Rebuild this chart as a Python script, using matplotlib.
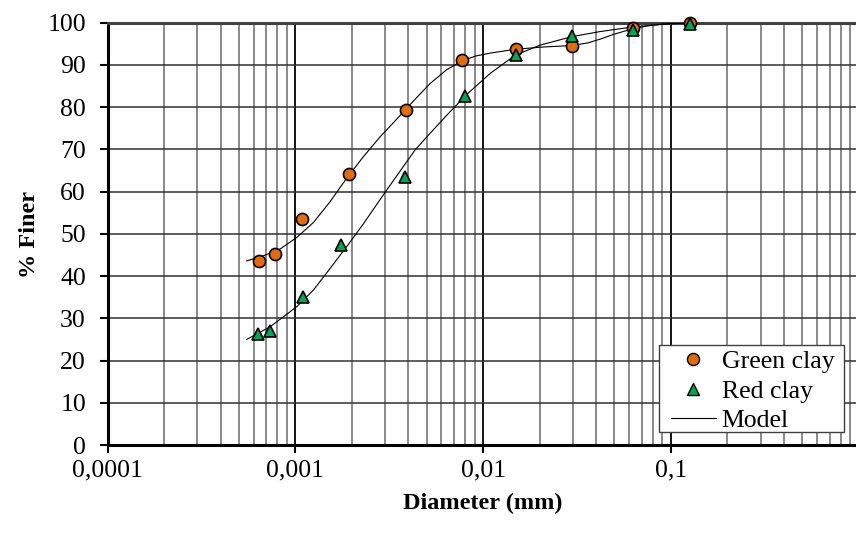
import matplotlib
matplotlib.use("Agg")
import matplotlib.pyplot as plt
from matplotlib.lines import Line2D
from matplotlib.patches import Rectangle

# ---- data ----
green_d = [0.000644, 0.000778, 0.00108, 0.00193, 0.00387, 0.00775, 0.0150, 0.0299, 0.063, 0.126]
green_p = [43.6, 45.2, 53.5, 64.2, 79.3, 91.2, 93.7, 94.6, 98.7, 100.0]
red_d = [0.000632, 0.000735, 0.00110, 0.00176, 0.00383, 0.00805, 0.0150, 0.0299, 0.063, 0.126]
red_p = [26.3, 27.0, 35.1, 47.3, 63.5, 82.6, 92.4, 96.9, 98.2, 99.7]

green_model_d = [0.000551, 0.000676, 0.00083, 0.001021, 0.00125, 0.001531, 0.001879, 0.002307, 0.002831,
                 0.003475, 0.004266, 0.005224, 0.006412, 0.007745, 0.00912, 0.01091, 0.01483, 0.02014,
                 0.02972, 0.03597, 0.04198, 0.050, 0.0631, 0.0759, 0.0912, 0.1079, 0.1259]
green_model_p = [43.6, 44.8, 46.4, 49.2, 52.7, 57.6, 63.2, 68.3, 73.0,
                 77.2, 81.5, 85.6, 88.9, 91.0, 92.1, 92.8, 93.7, 94.2,
                 94.6, 95.2, 96.1, 97.3, 98.6, 99.3, 99.7, 99.9, 100.0]
red_model_d = [0.000551, 0.000735, 0.001021, 0.00125, 0.001531, 0.001879, 0.002307, 0.00266, 0.00307,
               0.00366, 0.00435, 0.00512, 0.00641, 0.00813, 0.01091, 0.01483, 0.02014, 0.02972,
               0.04198, 0.0631, 0.0899, 0.1259]
red_model_p = [25.0, 28.0, 32.8, 36.7, 41.8, 47.0, 52.4, 56.4, 60.4,
               65.2, 69.9, 73.4, 78.1, 82.9, 88.0, 92.3, 94.7, 96.7,
               97.9, 99.0, 99.6, 100.0]

xticks = [0.0001, 0.001, 0.01, 0.1, 1]
xtick_labels = ["0,0001", "0,001", "0,01", "0,1", ""]
yticks = [0, 10, 20, 30, 40, 50, 60, 70, 80, 90, 100]
legend_labels = ['Green clay', 'Red clay', 'Model']

plt.rcParams['font.family'] = ['Liberation Serif', 'DejaVu Serif']

W, H = 856, 534
fig = plt.figure(figsize=(W/100, H/100), dpi=100)
ax = fig.add_axes([107.5/W, 1-445/H, (858.7-107.5)/W, (445-22.7)/H])

orange = '#E36C0A'
green = '#00A651'

ax.set_xscale('log')
ax.set_xlim(0.0001, 1)
ax.set_ylim(0, 100)

# grid
ax.grid(True, which='minor', axis='x', color='#808080', lw=1.3, zorder=0)
ax.grid(True, which='major', axis='x', color='black', lw=1.3, zorder=0)
ax.grid(True, which='major', axis='y', color='#303030', lw=1.1, zorder=0)

ax.plot(green_model_d, green_model_p, color='black', lw=0.8, zorder=3)
ax.plot(red_model_d, red_model_p, color='black', lw=0.8, zorder=3)
ax.plot(green_d, green_p, 'o', ms=8.7, mfc=orange, mec='black', mew=1.2, ls='none', zorder=4, clip_on=False)
ax.plot(red_d, red_p, '^', ms=9, mfc=green, mec='black', mew=1.2, ls='none', zorder=5, clip_on=False)

ax.set_xticks(xticks)
ax.set_xticklabels(xtick_labels)
ax.set_yticks(yticks)
ax.tick_params(axis='both', which='major', labelsize=18.5, direction='out', length=5.5, width=1.5, color='black')
ax.tick_params(axis='x', which='minor', length=0)
ax.tick_params(axis='x', pad=5)
ax.tick_params(axis='y', pad=10)

for s in ['left', 'bottom']:
    ax.spines[s].set_linewidth(2.2)
    ax.spines[s].set_color('black')
ax.spines['top'].set_linewidth(2.2)
ax.spines['top'].set_color('#404040')
ax.spines['right'].set_visible(False)

fig.text(483/W, 1-503/H, 'Diameter (mm)', fontsize=17.5, fontweight='bold', ha='center', va='center')
fig.text(30/W, 1-234/H, '% Finer', fontsize=17.5, fontweight='bold', ha='center', va='center', rotation=90)

# legend frame
fig.patches.append(Rectangle((659/W, 1-432/H), (844-659)/W, (432-344.7)/H, transform=fig.transFigure,
                             facecolor='white', edgecolor='#404040', lw=1.0, zorder=9))
handles = [
    Line2D([], [], marker='o', ls='none', ms=8.7, mfc=orange, mec='black', mew=1.0),
    Line2D([], [], marker='^', ls='none', ms=8.7, mfc=green, mec='black', mew=1.0),
    Line2D([], [], color='black', lw=0.8),
]
leg = fig.legend(handles, legend_labels, loc='upper left', bbox_to_anchor=(671/W, 1-350.5/H),
                 fontsize=18.5, frameon=False, borderpad=0, borderaxespad=0,
                 handlelength=1.75, handletextpad=0.22, labelspacing=0.24)
leg.set_zorder(10)

fig.savefig('out.png', dpi=100)
